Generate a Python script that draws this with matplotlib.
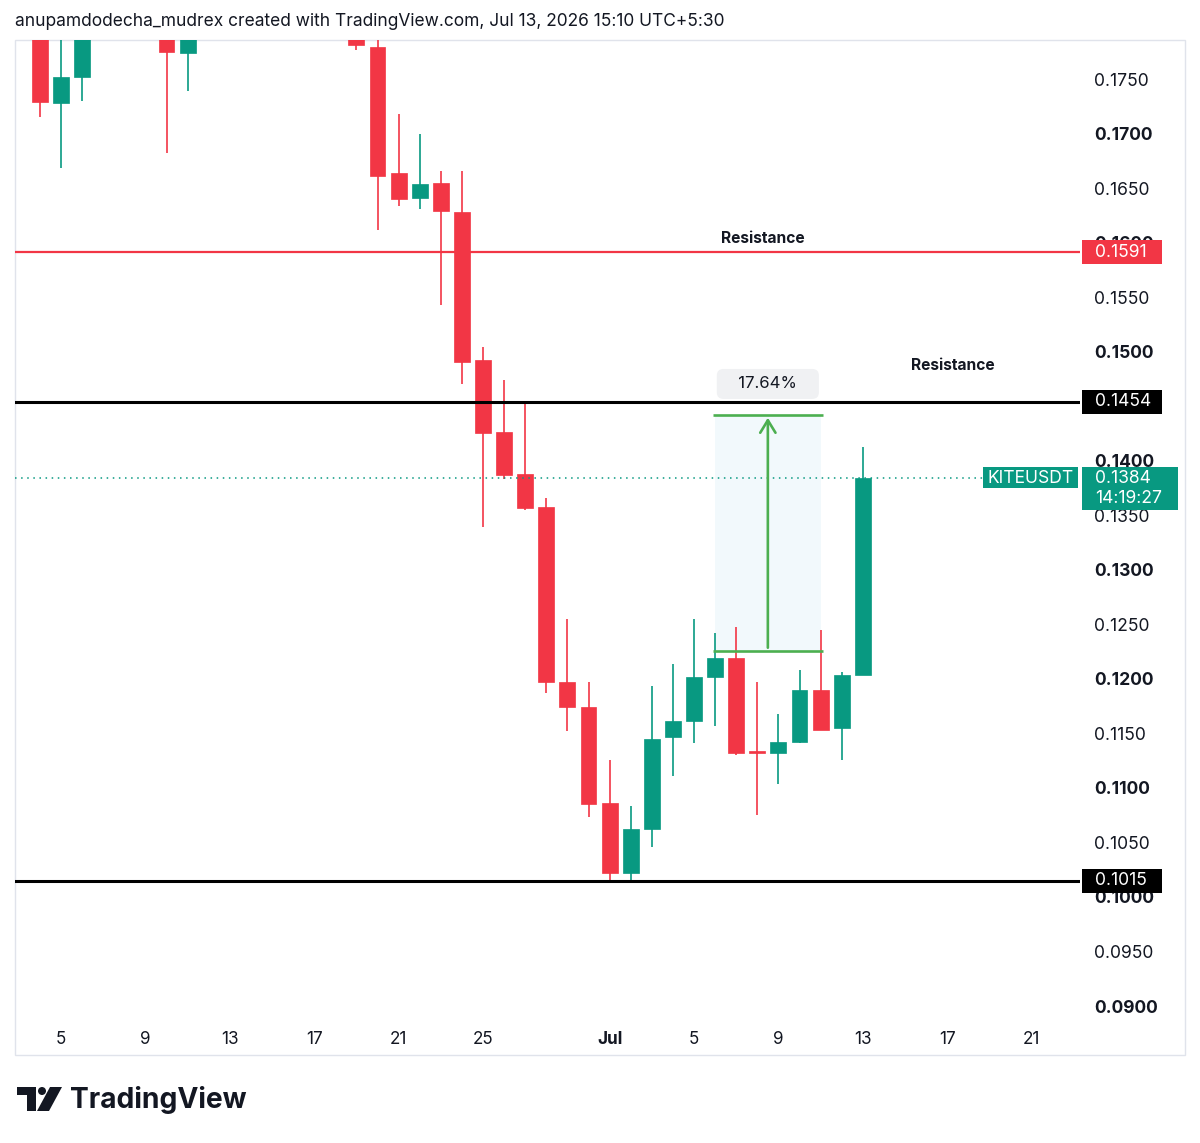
import matplotlib
matplotlib.use("Agg")
import matplotlib.pyplot as plt
import matplotlib.transforms as mtransforms
import matplotlib.dates as mdates
from matplotlib.patches import Rectangle, Polygon, Circle
import numpy as np
import pandas as pd

plt.rcParams['font.family'] = ['Inter', 'DejaVu Sans']

# ---------------- data ----------------
dates = pd.date_range("2026-06-04", "2026-07-13", freq="D")
opens  = [0.1810, 0.1728, 0.1752, 0.1810, 0.1850, 0.1830, 0.1820, 0.1774, 0.1810, 0.1860,
          0.1900, 0.1880, 0.1920, 0.1890, 0.1850, 0.1830, 0.1779, 0.1664, 0.1641, 0.1655,
          0.1628, 0.1492, 0.1426, 0.1388, 0.1358, 0.1197, 0.1174, 0.1086, 0.1022, 0.1062,
          0.1147, 0.1161, 0.1202, 0.1219, 0.1134, 0.1132, 0.1142, 0.1190, 0.1155, 0.1204]
highs  = [0.1830, 0.1800, 0.1830, 0.1880, 0.1900, 0.1870, 0.1860, 0.1840, 0.1880, 0.1930,
          0.1950, 0.1940, 0.1960, 0.1920, 0.1880, 0.1850, 0.1795, 0.1718, 0.1700, 0.1666,
          0.1666, 0.1504, 0.1474, 0.1455, 0.1366, 0.1255, 0.1197, 0.1126, 0.1083, 0.1193,
          0.1214, 0.1255, 0.1242, 0.1248, 0.1197, 0.1168, 0.1208, 0.1245, 0.1206, 0.1413]
lows   = [0.1715, 0.1668, 0.1730, 0.1790, 0.1800, 0.1795, 0.1682, 0.1739, 0.1795, 0.1840,
          0.1860, 0.1850, 0.1870, 0.1830, 0.1810, 0.1777, 0.1612, 0.1634, 0.1631, 0.1543,
          0.1470, 0.1339, 0.1383, 0.1355, 0.1187, 0.1152, 0.1073, 0.1016, 0.1016, 0.1046,
          0.1111, 0.1141, 0.1157, 0.1130, 0.1075, 0.1104, 0.1141, 0.1153, 0.1126, 0.1204]
closes = [0.1729, 0.1752, 0.1810, 0.1850, 0.1830, 0.1820, 0.1775, 0.1810, 0.1860, 0.1900,
          0.1880, 0.1920, 0.1890, 0.1850, 0.1830, 0.1781, 0.1661, 0.1640, 0.1654, 0.1629,
          0.1491, 0.1425, 0.1387, 0.1357, 0.1197, 0.1174, 0.1085, 0.1022, 0.1062, 0.1145,
          0.1161, 0.1202, 0.1219, 0.1132, 0.1132, 0.1142, 0.1190, 0.1153, 0.1204, 0.1384]

resistance_red = 0.1591
resistance_black = 0.1454
support_black = 0.1015
last_price = 0.1384
symbol = "KITEUSDT"
countdown = "14:19:27"
measure_start, measure_end = "2026-07-06", "2026-07-11"
measure_low, measure_high = 0.1226, 0.1442
measure_label = "17.64%"

xtick_dates = ["2026-06-05", "2026-06-09", "2026-06-13", "2026-06-17", "2026-06-21", "2026-06-25",
               "2026-07-01", "2026-07-05", "2026-07-09", "2026-07-13", "2026-07-17", "2026-07-21"]
xtick_labels = ["5", "9", "13", "17", "21", "25", "Jul", "5", "9", "13", "17", "21"]
ytick_values = [0.0900, 0.0950, 0.1000, 0.1050, 0.1100, 0.1150, 0.1200, 0.1250, 0.1300,
                0.1350, 0.1400, 0.1500, 0.1550, 0.1600, 0.1650, 0.1700, 0.1750]

title = "anupamdodecha_mudrex created with TradingView.com, Jul 13, 2026 15:10 UTC+5:30"

# ---------------- styling ----------------
RED = "#F23645"
GREEN = "#089981"
MGREEN = "#4CAF50"
DARK = "#131722"
W, H = 1200, 1143
PXDAY = 21.1

fig = plt.figure(figsize=(W / 100, H / 100), dpi=100)
fig.patch.set_facecolor("white")

# overlay in pixel coordinates (frame + logo)
ov = fig.add_axes([0, 0, 1, 1], zorder=0)
ov.set_xlim(0, W)
ov.set_ylim(H, 0)
ov.axis("off")
ov.add_patch(Rectangle((15, 40), 1170, 1015, fill=False, ec="#E0E3EB", lw=1))

ax = fig.add_axes([15 / W, 1 - 1020 / H, 1065 / W, 980 / H], zorder=1)
ax.patch.set_alpha(0)
for s in ax.spines.values():
    s.set_visible(False)

xd = mdates.date2num(dates)
d5 = mdates.date2num(pd.Timestamp("2026-06-05"))
ax.set_xlim(d5 - (61 - 15) / PXDAY, d5 + (1080 - 61) / PXDAY)
ymin, ymax = 0.08872, 0.17858
ax.set_ylim(ymin, ymax)
dpp = (ymax - ymin) / 980.0  # data units per pixel

# candles
o = np.array(opens); c = np.array(closes); hi = np.array(highs); lo = np.array(lows)
cols = [GREEN if cc >= oo else RED for oo, cc in zip(o, c)]
ax.vlines(xd, lo, hi, colors=cols, lw=1.2, zorder=3)
bottoms = np.minimum(o, c)
heights = np.maximum(np.abs(c - o), 1.5 * dpp)
ax.bar(xd, heights, bottom=bottoms, width=0.75, color=cols, edgecolor=cols, lw=0.5, zorder=4)

# horizontal levels
ax.axhline(resistance_red, color=RED, lw=1.6, zorder=5)
ax.axhline(resistance_black, color="black", lw=2.2, zorder=5)
ax.axhline(support_black, color="black", lw=2.2, zorder=5)

xpix = mtransforms.Affine2D().scale(1 / W, 1) + fig.transFigure
tb = mtransforms.blended_transform_factory(xpix, ax.transData)
# last price dotted line (up to symbol label)
ax.plot([15, 983], [last_price, last_price], transform=tb, color=GREEN, lw=1.1,
        ls=(0, (1, 3)), zorder=5)

ax.text(mdates.date2num(pd.Timestamp("2026-07-08")) + 0.27, 0.1591 + 14 * dpp, "Resistance",
        fontsize=11.2, fontweight="bold", color=DARK, ha="center", va="center", zorder=6)
ax.text(mdates.date2num(pd.Timestamp("2026-07-17")) + 0.27, 0.1454 + 36 * dpp, "Resistance",
        fontsize=11.2, fontweight="bold", color=DARK, ha="center", va="center", zorder=6)

# measurement tool
ms = mdates.date2num(pd.Timestamp(measure_start))
me = mdates.date2num(pd.Timestamp(measure_end))
ax.fill_between([ms, me], measure_low, measure_high, color="#F2F9FC", zorder=1, lw=0)
ax.hlines([measure_low, measure_high], ms - 0.1, me + 0.1, color=MGREEN, lw=1.9, zorder=6)
mid = (ms + me) / 2
ax.annotate("", xy=(mid, measure_high), xytext=(mid, measure_low),
            arrowprops=dict(arrowstyle="->,head_length=0.9,head_width=0.55", color=MGREEN, lw=1.9),
            zorder=6)
ax.text(mid, measure_high + 31 * dpp, "   " + measure_label + "   ", fontsize=12, color=DARK,
        ha="center", va="center", zorder=7,
        bbox=dict(boxstyle="round,pad=0.45,rounding_size=0.4", fc="#F0F1F3", ec="none"))

# axes ticks
ax.set_xticks(mdates.date2num(pd.to_datetime(xtick_dates)))
ax.set_xticklabels(xtick_labels)
ax.tick_params(axis="x", length=0, pad=8, labelsize=12.3, labelcolor=DARK)
for lab, txt in zip(ax.get_xticklabels(), xtick_labels):
    if txt == "Jul":
        lab.set_fontweight("bold")
ax.yaxis.tick_right()
ax.set_yticks(ytick_values)
ax.set_yticklabels([f"{v:.4f}" for v in ytick_values])
ax.tick_params(axis="y", length=0, pad=10, labelsize=12.6, labelcolor=DARK)
for lab, v in zip(ax.get_yticklabels(), ytick_values):
    if round(v * 10000) % 100 == 0:
        lab.set_fontweight("bold")

# price labels on right scale
def price_box(p, fc, top_px, bot_px, x0=1082, x1=1162):
    ax.add_patch(Rectangle((x0, p - bot_px * dpp), x1 - x0, (top_px + bot_px) * dpp,
                           transform=tb, fc=fc, ec="none", zorder=10, clip_on=False))

price_box(resistance_red, RED, 12, 12)
ax.text(1095, resistance_red, f"{resistance_red:.4f}", transform=tb, color="white", fontsize=12.6,
        ha="left", va="center", zorder=11, clip_on=False)
price_box(resistance_black, "black", 12, 12)
ax.text(1095, resistance_black, f"{resistance_black:.4f}", transform=tb, color="white", fontsize=12.6,
        ha="left", va="center", zorder=11, clip_on=False)
price_box(support_black, "black", 12, 12)
ax.text(1095, support_black, f"{support_black:.4f}", transform=tb, color="white", fontsize=12.6,
        ha="left", va="center", zorder=11, clip_on=False)
price_box(last_price, GREEN, 11, 32, 1082, 1178)
ax.text(1095, last_price, f"{last_price:.4f}", transform=tb, color="white", fontsize=12.6,
        ha="left", va="center", zorder=11, clip_on=False)
ax.text(1095, last_price - 20 * dpp, countdown, transform=tb, color="white", fontsize=12.6,
        ha="left", va="center", zorder=11, clip_on=False)
price_box(last_price, GREEN, 11, 10, 983, 1078)
ax.text(1030.5, last_price, symbol, transform=tb, color="white", fontsize=12.6,
        ha="center", va="center", zorder=11, clip_on=False)

# title
fig.text(15 / W, 1 - 22 / H, title, fontsize=12.5, color=DARK, ha="left", va="center")

# TradingView logo
ov.add_patch(Polygon([(17, 1087), (36, 1087), (36, 1111), (27, 1111), (27, 1095), (17, 1095)],
                     closed=True, fc=DARK, ec="none"))
ov.add_patch(Circle((42, 1091), 4, fc=DARK, ec="none"))
ov.add_patch(Polygon([(50, 1087), (62, 1087), (49, 1111), (37, 1111)], closed=True, fc=DARK, ec="none"))
ov.text(70, 1100, "TradingView", fontsize=20.3, fontweight="bold", color=DARK, ha="left", va="center")

fig.savefig("out.png", dpi=100, facecolor="white")
